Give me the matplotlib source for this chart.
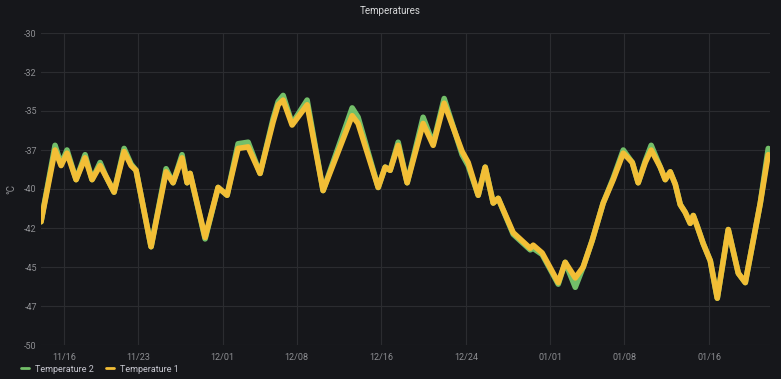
import numpy as np
import pandas as pd
import matplotlib
matplotlib.use("Agg")
import matplotlib.pyplot as plt
import matplotlib.dates as mdates
from matplotlib.ticker import FixedLocator

# sample times, days after 2022-11-16 00:00
day = [-2.18, -0.85, -0.28, 0.28, 1.14, 1.99, 2.65, 3.41, 3.97, 4.73,
       5.68, 6.34, 6.81, 8.23, 9.65, 10.31, 11.16, 11.64, 11.92, 13.34,
       14.57, 15.42, 16.46, 17.41, 18.54, 19.77, 20.25, 20.72, 21.57, 22.99,
       24.50, 27.25, 27.81, 29.71, 30.37, 30.84, 31.60, 32.45, 33.96, 34.91,
       35.95, 37.65, 38.22, 39.17, 39.83, 40.59, 41.06, 42.48, 44.09, 44.37,
       45.22, 46.74, 47.40, 48.35, 49.10, 49.95, 50.99, 51.94, 52.89, 53.74,
       54.30, 54.97, 55.53, 56.39, 56.86, 57.33, 57.81, 58.28, 58.75, 59.22,
       59.51, 59.89, 60.45, 61.12, 61.78, 62.82, 63.77, 64.43, 65.85, 66.60]

temp1 = [-42.1, -37.5, -38.5, -37.7, -39.4, -38.0, -39.4, -38.5, -39.2, -40.2,
         -37.6, -38.5, -38.8, -43.7, -38.9, -39.6, -38.0, -39.6, -39.0, -43.1,
         -39.9, -40.4, -37.4, -37.3, -39.0, -35.7, -34.6, -34.3, -35.9, -34.6,
         -40.1, -35.3, -35.8, -39.9, -38.6, -38.8, -37.2, -39.6, -35.8, -37.2,
         -34.5, -37.6, -38.3, -40.4, -38.6, -40.9, -40.6, -42.8, -43.8, -43.6,
         -44.1, -46.0, -44.7, -45.7, -45.0, -43.3, -40.9, -39.4, -37.7, -38.3,
         -39.6, -38.3, -37.5, -38.6, -39.4, -38.9, -39.7, -41.0, -41.5, -42.2,
         -41.7, -42.4, -43.5, -44.6, -47.0, -42.6, -45.4, -46.0, -40.9, -37.8]

temp2 = [-42.1, -37.2, -38.4, -37.5, -39.4, -37.8, -39.4, -38.3, -39.2, -40.2,
         -37.4, -38.4, -38.8, -43.7, -38.7, -39.6, -37.8, -39.6, -39.0, -43.2,
         -39.9, -40.4, -37.1, -37.0, -39.0, -35.5, -34.4, -34.0, -35.8, -34.3,
         -40.1, -34.8, -35.4, -39.9, -38.6, -38.8, -37.0, -39.6, -35.4, -37.1,
         -34.2, -37.8, -38.5, -40.4, -38.6, -40.9, -40.6, -42.9, -43.9, -43.8,
         -44.2, -46.1, -44.7, -46.3, -45.0, -43.3, -40.9, -39.3, -37.5, -38.3,
         -39.6, -38.2, -37.2, -38.6, -39.4, -38.9, -39.7, -41.0, -41.5, -42.2,
         -41.7, -42.4, -43.5, -44.6, -47.0, -42.6, -45.4, -46.0, -40.9, -37.4]

tick_dates = ["2022-11-16", "2022-11-23", "2022-12-01", "2022-12-08", "2022-12-16",
              "2022-12-24", "2023-01-01", "2023-01-08", "2023-01-16"]
y_ticks = [-30, -32.5, -35, -37.5, -40, -42.5, -45, -47.5, -50]
y_labels = ["-30", "-32", "-35", "-37", "-40", "-42", "-45", "-47", "-50"]

t = pd.Timestamp("2022-11-16") + pd.to_timedelta(day, unit="D")

bg = "#16171b"
grid_c = "#2b2c30"
txt_c = "#8e8f93"
green = "#73bf69"
yellow = "#f2be36"

plt.rcParams["font.family"] = ["Roboto", "DejaVu Sans"]

fig = plt.figure(figsize=(7.81, 3.79), dpi=100, facecolor=bg)
ax = fig.add_axes([41 / 781, 1 - 345 / 379, (770 - 41) / 781, (345 - 33) / 379])
ax.set_facecolor(bg)

ax.plot(t, temp2, color=green, lw=4, solid_joinstyle="round", solid_capstyle="round",
        label="Temperature 2", zorder=3)
ax.plot(t, temp1, color=yellow, lw=4, solid_joinstyle="round", solid_capstyle="round",
        label="Temperature 1", zorder=4)

ax.set_ylim(-50, -30)
ax.set_xlim(t[0], t[-1] + pd.Timedelta(hours=4))
ax.set_yticks(y_ticks)
ax.set_yticklabels(y_labels)
ax.xaxis.set_major_locator(FixedLocator(mdates.date2num(pd.to_datetime(tick_dates))))
ax.xaxis.set_major_formatter(mdates.DateFormatter("%m/%d"))

ax.grid(True, color=grid_c, lw=0.8)
ax.set_axisbelow(True)
for s in ax.spines.values():
    s.set_visible(False)
ax.tick_params(axis="both", length=0, labelsize=6.5, colors=txt_c)
ax.tick_params(axis="x", pad=6)
ax.tick_params(axis="y", pad=3)

ax.set_ylabel("°C", color=txt_c, fontsize=7, labelpad=6)
fig.text(0.5, 1 - 11 / 379, "Temperatures", ha="center", va="center",
         color="#d8d9da", fontsize=7)

# legend row under the time axis
leg = ax.legend(loc="center left", bbox_to_anchor=(-0.028, -0.077), ncol=2, frameon=False,
                fontsize=6.5, handlelength=0.9, handletextpad=0.7, columnspacing=1.3,
                borderaxespad=0, borderpad=0)
for txt in leg.get_texts():
    txt.set_color("#c7c7d0")
for line in leg.get_lines():
    line.set_linewidth(2)

fig.savefig("out.png", dpi=100, facecolor=bg)
